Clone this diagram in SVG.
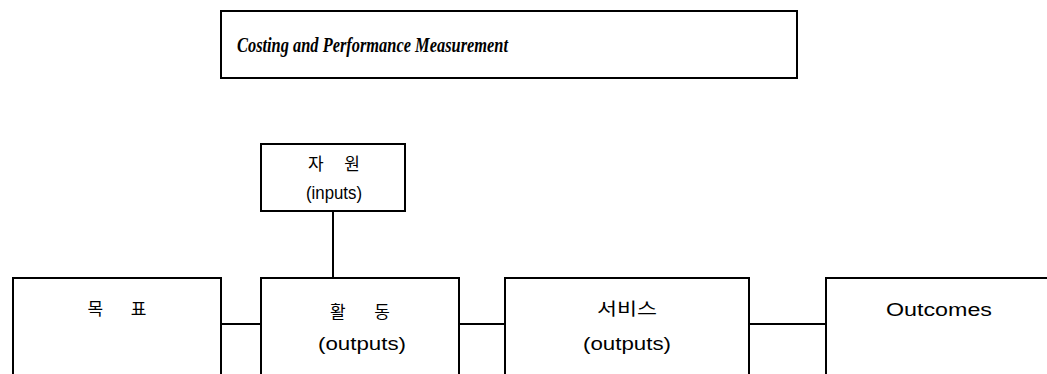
<svg xmlns="http://www.w3.org/2000/svg" width="1047" height="374" viewBox="0 0 1047 374">
<style>
.box{fill:#fff;stroke:#000;stroke-width:2}
.ln{stroke:#000;stroke-width:2;fill:none}
.t{font-family:"Liberation Sans","Noto Sans CJK KR",sans-serif;font-size:18px;fill:#000;text-anchor:middle}
.k{font-family:"Noto Sans CJK KR",sans-serif;font-size:17px;fill:#000;text-anchor:middle}
.title{font-family:"Liberation Serif",serif;font-size:22px;font-weight:bold;font-style:italic;fill:#000}
</style>
<rect width="1047" height="374" fill="#fff"/>
<g id="title">
<rect class="box" x="221" y="11" width="576" height="67"/>
<text class="title" x="237" y="52" textLength="271" lengthAdjust="spacingAndGlyphs">Costing and Performance Measurement</text>
</g>
<g id="connectors">
<line class="ln" x1="333" y1="211" x2="333" y2="278"/>
<line class="ln" x1="221" y1="324" x2="261" y2="324"/>
<line class="ln" x1="459" y1="324" x2="505" y2="324"/>
<line class="ln" x1="749" y1="324" x2="826" y2="324"/>
</g>
<g id="resources">
<rect class="box" x="261" y="144" width="144" height="67"/>
<text class="k" x="334" y="170" textLength="52" lengthAdjust="spacing">자 원</text>
<text class="t" x="334" y="199" textLength="56" lengthAdjust="spacingAndGlyphs">(inputs)</text>
</g>
<g id="goals">
<rect class="box" x="13" y="278" width="208" height="110"/>
<text class="k" x="117" y="315" textLength="59" lengthAdjust="spacing">목 표</text>
</g>
<g id="activities">
<rect class="box" x="261" y="278" width="198" height="110"/>
<text class="k" x="360" y="318" textLength="60" lengthAdjust="spacing">활 동</text>
<text class="t" x="362" y="350" textLength="88" lengthAdjust="spacingAndGlyphs">(outputs)</text>
</g>
<g id="services">
<rect class="box" x="505" y="278" width="244" height="110"/>
<text class="k" x="627" y="315" textLength="60" lengthAdjust="spacingAndGlyphs">서비스</text>
<text class="t" x="627" y="350" textLength="88" lengthAdjust="spacingAndGlyphs">(outputs)</text>
</g>
<g id="outcomes">
<rect class="box" x="826" y="278" width="240" height="110"/>
<text class="t" x="939" y="316" textLength="106" lengthAdjust="spacingAndGlyphs">Outcomes</text>
</g>
</svg>
